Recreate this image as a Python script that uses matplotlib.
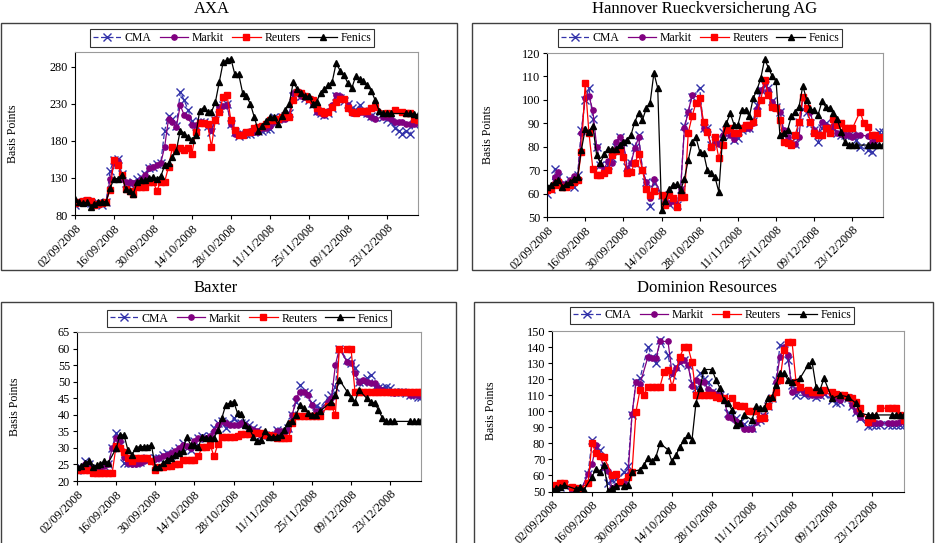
import numpy as np
import pandas as pd
import matplotlib
matplotlib.use("Agg")
import matplotlib.pyplot as plt
from matplotlib.patches import Rectangle

plt.rcParams['font.family'] = ['Liberation Serif', 'DejaVu Serif']

# business days 02/09/2008 .. 02/01/2009
dates = pd.bdate_range('2008-09-02', periods=89).strftime('%d/%m/%Y').tolist()
N = len(dates)

series_names = ['CMA', 'Markit', 'Reuters', 'Fenics']

# ---------------- AXA ----------------
axa_cma = [
    93, 97, 98, 99, 96, 95, 96, 94, 98, 140,
    154, 155, 136, 123, 122, 124, 128, 131, 135, 143,
    145, 149, 150, 194, 214, 210, 200, 246, 235, 222,
    207, 200, 205, 205, 200, 192, 208, 225, 228, 230,
    203, 192, 187, 190, 190, 190, 192, 193, 194, 196,
    196, 212, 210, 212, 213, 218, 241, 244, 240, 238,
    235, 230, 220, 218, 215, 218, 225, 240, 238, 234,
    230, 225, 222, 228, 220, 218, 214, 212, None, 212,
    210, 205, 198, 194, 190, 194, 189, 203, 212]
axa_markit = [
    96, 97, 98, 99, 96, 94, 96, 98, 97, 129,
    150, 153, 128, 125, 124, 123, 125, 129, 134, 143,
    145, 148, 150, 172, 210, 205, 199, 228, 215, 212,
    201, 201, 206, 204, 201, 195, 210, 226, 227, 228,
    203, 190, 190, 190, 192, 193, 192, 192, 197, 198,
    200, 206, 208, 210, 210, 215, 244, 244, 240, 239,
    237, 230, 219, 217, 215, 220, 228, 242, 240, 236,
    228, 217, 218, 219, 219, 216, 212, 210, None, 212,
    212, 210, 206, 206, 205, 203, 203, 203, 204]
axa_reuters = [
    96, 98, 99, 100, 99, 93, 95, 96, 98, 114,
    154, 147, 134, 115, 112, 109, 118, 118, 118, 125,
    125, 113, 125, 125, 145, 172, 168, 170, 168, 170,
    163, 192, 204, 204, 203, 172, 208, 219, 239, 242,
    208, 195, 188, 188, 192, 192, 197, 199, 200, 203,
    208, 208, 210, 212, 215, 212, 235, 246, 244, 240,
    237, 235, 224, 220, 217, 219, 226, 232, 237, 237,
    224, 219, 217, 221, 221, 221, 224, 226, None, None,
    217, None, 222, None, 219, 217, 217, 210, 208]
axa_fenics = [
    102, 97, 96, 97, 91, 95, 97, 98, 98, 116,
    129, 129, 134, 115, 112, 109, 125, 127, 127, 130,
    131, 129, 132, 147, 150, 158, 167, 194, 190, 185,
    181, 188, 221, 225, 219, 219, 232, 259, 286, 289,
    291, 270, 270, 245, 240, 230, 212, 194, 200, 207,
    212, 212, 203, 213, 222, 230, 260, 250, 245, 240,
    240, 230, 233, 245, 250, 255, 260, 285, 275, 269,
    258, 251, 267, 263, 261, 255, 248, 235, 221, 217,
    217, 217, None, None, None, 217, 217, 216, 215]

# ---------------- Hannover ----------------
han_cma = [
    60, 62, 70.7, 67, 64, 63.6, 66, 62.6, 68, 87,
    100, 105, 92, 80, 72, 70.7, 72, 75, 80, 84.3,
    82, 71.4, 73, 80, 85, 70, 65, 54.6, 64.3, None,
    59.3, 57, 55.7, 57, 55, 62, 88.9, 95, 101.4, None,
    105, 87.9, 88, 80.7, 83, 81.4, 86.4, 87, 85, 82.9,
    83.6, 87, 88, 88, 91, 98, 104, 106.4, 105, 99.3,
    97, 95, 85.7, 84, 82, 81, 90.7, 96, 95, 90,
    87, 82, 88, 90, 89, 88, 86, 85, 85, 85,
    85, 83, 80, None, 78.5, 77.9, 82, 86.4, 86.4]
han_markit = [
    61, 62, 67, 69, 64, 64, 66, 67.5, 66, 86,
    101, 101.5, 95.5, 80, 72, 70.7, 74, 73, 82, 84,
    82, 70.7, 73, 79.3, 84, 70, 65, 58, 66.4, None,
    59.3, 57, 56, 57, 55, 62, 88, 95, 102, None,
    101, 88, 87, 80, 82, 81, 85, 87, 85, 83.5,
    86, 88, 88, 88, 90, 96, 104, 107, 104, 99,
    97, 95, 87, 84, 81, 81, 84, 101.4, 96, 95,
    87, 85, 90.7, 89, 88, 89, 86, 85.5, 85, 85,
    84, 85, 85, None, 84.5, 82, 83, 84, 84]
han_reuters = [
    61.4, 62, 63.6, 65, 63, 63, 63.6, 65, 66, 77.9,
    107, 85.7, 70.7, 68, 67.9, 68.6, 70, 76.4, 78, 78.6,
    75.7, 68.6, 69.3, 73, 77, 70, 62, 59.3, 61, None,
    59.3, 55, 59.3, 58, 54.3, 58.6, 58.6, 86, 93, 98.6,
    100.7, 90.7, 86.4, 80, 84, 75, 80.7, 87, 88, 86,
    85.7, 88, 89.3, 89.3, 90.7, 94.3, 100, 108.6, 102, 97,
    96.4, 91.4, 82, 81.4, 80.7, 85, 90.7, 101.4, 96.4, 90.7,
    85.7, 85, 85, 87.9, 85.7, 92, 89.3, 90, 88, 87.9,
    87.9, None, 95, 90, 88.6, 85, 85, 83.6, 84]
han_fenics = [
    63, 63.5, 65, 66, 63, 64, 65, 66.4, 67, 78.6,
    87.5, 86.4, 89, 76.4, 73, 77, 79, 79, 79, 80.7,
    82, 83, 85, 90.7, 94.3, 91.4, 96.4, 98.6, 111.5, 105,
    53, 57, 62, 63.6, 64, 61.4, 66.4, 74.3, 82, 84,
    77.9, 77.4, 70, 68.6, 67, 60.7, 84.3, 90, 94.3, 89.3,
    89.3, 95.7, 95.7, 92.9, 100.7, 104.3, 109.3, 117.4, 113.6, 110,
    107.9, 85, 86, 87, 93, 95, 97, 106, 100, 96,
    95.7, 93.6, 99.3, 97, 96.4, 94.3, 92, 86.4, 82, 80.7,
    80.7, 80.7, None, None, 80.7, 80.7, 80.7, 80.7, 80.7]

# ---------------- Baxter ----------------
bax_cma = [
    23.3, 24, 25.9, 25, 23.5, 23.8, 24, 24.5, 25, 30,
    34.6, 31, 25.3, 25.5, 25.5, 25.5, 25.8, 26.5, 27, 26.5,
    27, 27, 27.8, 28.5, 28, 29, 30, 31.5, 30, 29.5,
    32, 33, 33.5, 33, 33.5, 36, 37.5, 38, 36, 37.5,
    39, 37.5, 37.5, 37.5, 37, 36, 35.5, 34, 34, 34,
    33.5, 35.5, 35, 34.5, 36, 40, 44, 49, 47, 46.5,
    43.5, 42.5, 42, None, 45, 46, 48.5, 60, None, 56.6,
    55.5, 54, 50, 50, 51, 52, 48.5, 48, 48, 48.5,
    48, 47, 47, 47, 46.5, 46, 46, 45.5, 45.5]
bax_markit = [
    23.5, 24, 25, 24.5, 23.5, 24, 24, 24.5, 25, 30,
    33, 32, 27.3, 25.5, 25, 25, 25.5, 26, 26.5, 26,
    26.5, 27, 27.5, 28, 28.5, 29, 30, 31, 30.5, 30,
    32, 33, 33, 33, 33.5, 35, 37, 38, 37.5, 37,
    37, 37, 37.5, 37, 36, 35.5, 35, 34, 34, 34,
    34, 35, 35, 34, 35.5, 40, 45, 47, 47, 46,
    43, 41, 41, None, 44, 45, 55, 60, None, 56,
    55.5, 52.5, 50, 50.5, 50, 49.5, 49.5, 48, 47.5, 47,
    47, 46.5, 47, 47, 47, 46, 46, 46, 46]
bax_reuters = [
    23.3, 23.3, 23.3, 23.3, 22.5, 22.5, 22.5, 22.5, 22.5, 22.5,
    30.7, 30, 28.9, 27, 25.9, 26.9, 26.9, 26.9, 26.9, 25.9,
    23.3, 24.3, 24.3, 24.4, 24.5, 25.1, 25.1, 26.4, 26.4, 26.4,
    26.4, 27.5, 30.4, 30.4, 31, 27.4, 31.2, 33.4, 33.4, 33.4,
    33.4, 33.6, 34.2, 34.2, 34.3, 34.4, 34.4, 34.4, 34, 34,
    33.5, 33.1, 33.1, 32.9, 32.9, 37.5, 39.5, 39.5, 39.5, 39.5,
    39.5, 39.5, 39.5, None, 42.5, 42.5, 40, 60, None, 60,
    60, 47, 47, 47, 47, 47, 47, 47, 47, 47,
    47, 47, 47, 47, 47, 47, 47, 47, 47]
bax_fenics = [
    24.3, 24.5, 25.3, 25.9, 24.1, 24.8, 25.1, 25.9, 25.5, None,
    29.9, 33.9, 33.9, 29.4, 27.9, 29.9, 30.4, 30.4, 30.4, 30.9,
    24.3, 24.3, 25.3, 26.4, 27, 27.9, 28.4, 29, 33.4, 31,
    30.9, 30.4, 33.4, 33, 32.9, 33, 35.4, 39, 43, 43.5,
    44, 40.5, 40.3, 37, 36, 33.4, 32, 32.5, 35, 33.4,
    33.4, 33.4, 34, 35.4, 37.5, 38, 40, 43, 42, 40.5,
    40, 40, 41, None, None, 44, 46, 50.6, None, 47,
    45, 44, 47.5, None, 45, 44, 43.5, 41.5, 39, 38,
    38, 38, None, None, None, 38, 38, 38, 38]

# ---------------- Dominion ----------------
dom_cma = [
    51, 52, 53, 54, None, 50, 49.5, 49, None, 61,
    82, 77, 76, 64.5, 55, 57, 57.5, None, 62, 66,
    97.7, 118.5, 120.5, None, 140.2, 134, 130, 144.4, None, 135,
    122.6, 127.8, 130, 132, 128.8, 117.4, 114.3, 124, 120, 118,
    112, 111, 110, 109, 98.8, 97.7, 96, 93.6, 92, 89.4,
    89.4, 93, 94.6, 97, 103, 108, 119.5, 141.3, 138, 132,
    116.4, 110, None, 110, 112, 110, 109, 110, 111, None,
    107, 105, 106, None, 108, 103, 99.8, 96, None, 90.5,
    91.5, 91.5, 91.5, None, 91.5, 91.5, 91.5, 91.5, 91.5]
dom_markit = [
    51.5, 52, 53.5, 54, None, 50.5, 50, 49.5, None, 61,
    67, 79, 72, 65, 63, 52, 53.5, None, 56, 60,
    98, 118, 117, None, 134, 133, 133, 143.5, None, 143.5,
    124, 127, 131, 132, 128.8, 116, 119.5, 118, 118, 114,
    112, 111, 110, 108, 96.5, 96, 94, 92, 89, 89,
    89, 93, 95, 97, 103, 108, 118, 134, 140, 135,
    112, 113, None, 112, 111, 110, 110, 110, 112, None,
    110, 108, 107, None, 108, 104, 100, 96.5, None, 92.5,
    92.5, 92.5, 92.5, None, 92.5, 92.5, 92.5, 93, 93]
dom_reuters = [
    52.7, 54, 55, 55.5, None, 52.5, 52, 51.5, None, 55.5,
    80, 73.8, 72, 71.4, None, 60.4, 61, 56.2, None, 59.3,
    62, 99.8, 113.3, 110.2, 115.4, 115.4, 115.4, 115.4, 124.7, 125.7,
    115.4, None, 134, 140, 140, 130.5, 110.2, 110.2, 110.2, 110.2,
    110.2, 109, 108, 108, None, 108, 104, 103, 103, 100.4,
    100.4, 100.4, 95.6, 95.6, 103, 108, 112, 119.5, 138, 143.4,
    143.4, 118.5, 115.4, None, 113, 112, 112, 112, 113, None,
    112, 111, 110, 110, 109, 108, 106, 102, None, 93.6,
    95.6, None, 101.9, None, 101.9, 101.9, 101.9, 97.7, 94.6]
dom_fenics = [
    51, 52, 53, 54, None, None, 51.5, 52.7, 51, None,
    59.3, 63.9, 62.4, 66.6, 50.6, 52, 53.5, None, 53.5, 54,
    62.4, None, 63.5, 66.6, 70.7, 68.7, 71.8, 80, None, 76,
    68.7, 72.8, 78, 82, 85.3, 82.2, 105.4, 114.3, 126, None,
    126, 119.5, 114.3, 107, 105, 100.8, 91.5, 92.5, 97.7, None,
    94.6, 103, 101.9, 101.9, 108, 109, 116.4, 123.6, 123.6, 119.5,
    118.5, None, 120.5, None, 128.8, 131, 115.4, 113.3, 120.5, None,
    108, None, 110, None, 109, None, 105, 98.8, None, 97.7,
    97.7, 97.7, None, None, None, 97.7, 97.7, 97.7, 97.7]

W, H = 942, 543
fig = plt.figure(figsize=(W / 100, H / 100), dpi=100)


def px_axes(left, top, right, bottom):
    return fig.add_axes([left / W, 1 - bottom / H, (right - left) / W, (bottom - top) / H])


styles = [
    dict(color='#3333AA', marker='x', ms=6, mew=1.0, lw=0.9, ls=(0, (4, 2))),
    dict(color='#800080', marker='o', ms=3.8, lw=0.9),
    dict(color='#FF0000', marker='s', ms=4.2, lw=0.9),
    dict(color='black', marker='^', ms=4.8, lw=0.9),
]


def panel(box, area, title, title_xy, legend_xy, data, ylim, yticks, ylab_x):
    x0, y0, x1, y1 = box
    fig.patches.append(Rectangle((x0 / W, 1 - y1 / H), (x1 - x0) / W, (y1 - y0) / H,
                                 transform=fig.transFigure, fill=False,
                                 edgecolor='#404040', lw=1.0))
    fig.text(title_xy[0] / W, 1 - title_xy[1] / H, title, ha='center', va='center',
             fontsize=12)
    ax = px_axes(*area)
    x = np.arange(N)
    handles = []
    for name, vals, st in zip(series_names, data, styles):
        y = np.array(vals, dtype=float)
        m = ~np.isnan(y)
        h, = ax.plot(x[m], y[m], label=name, **st)
        handles.append(h)
    ax.set_xlim(0, N - 1)
    ax.set_ylim(*ylim)
    ax.set_yticks(yticks)
    ax.set_xticks(range(0, N, 10))
    ax.set_xticklabels([dates[i] for i in range(0, N, 10)], rotation=45,
                       ha='right', rotation_mode='anchor')
    ax.tick_params(direction='out', length=3, width=0.8, labelsize=8.8, pad=2)
    for s in ['top', 'right']:
        ax.spines[s].set_color('#9a9a9a')
    for s in ['left', 'bottom']:
        ax.spines[s].set_color('black')
    for s in ax.spines.values():
        s.set_linewidth(0.8)
    ax.set_ylabel('Basis Points', fontsize=8.6)
    ax.yaxis.set_label_coords(ylab_x, 0.5)
    leg = fig.legend(handles=handles, loc='center',
                     bbox_to_anchor=(legend_xy[0] / W, 1 - legend_xy[1] / H),
                     ncol=4, fontsize=8.5, frameon=True, fancybox=False,
                     handlelength=2.4, handletextpad=0.3, columnspacing=0.7,
                     borderpad=0.25, borderaxespad=0)
    leg.get_frame().set_edgecolor('black')
    leg.get_frame().set_linewidth(0.8)
    return ax


panel((1, 23, 457, 270), (75, 52, 418, 215), 'AXA', (212, 9), (232, 38),
      [axa_cma, axa_markit, axa_reuters, axa_fenics], (80, 300),
      [80, 130, 180, 230, 280], -0.163)
panel((472, 23, 930, 270), (547, 53, 883, 217), 'Hannover Rueckversicherung AG',
      (705, 9), (700, 38),
      [han_cma, han_markit, han_reuters, han_fenics], (50, 120),
      range(50, 121, 10), -0.158)
panel((1, 302, 456, 546), (77, 332, 421.5, 481), 'Baxter', (216, 288), (249, 318.5),
      [bax_cma, bax_markit, bax_reuters, bax_fenics], (20, 65),
      range(20, 66, 5), -0.163)
panel((474, 302, 933, 546), (552, 331, 904, 491.5), 'Dominion Resources',
      (707, 288), (712, 315.5),
      [dom_cma, dom_markit, dom_reuters, dom_fenics], (50, 150),
      range(50, 151, 10), -0.156)

fig.savefig('out.png', dpi=100)
